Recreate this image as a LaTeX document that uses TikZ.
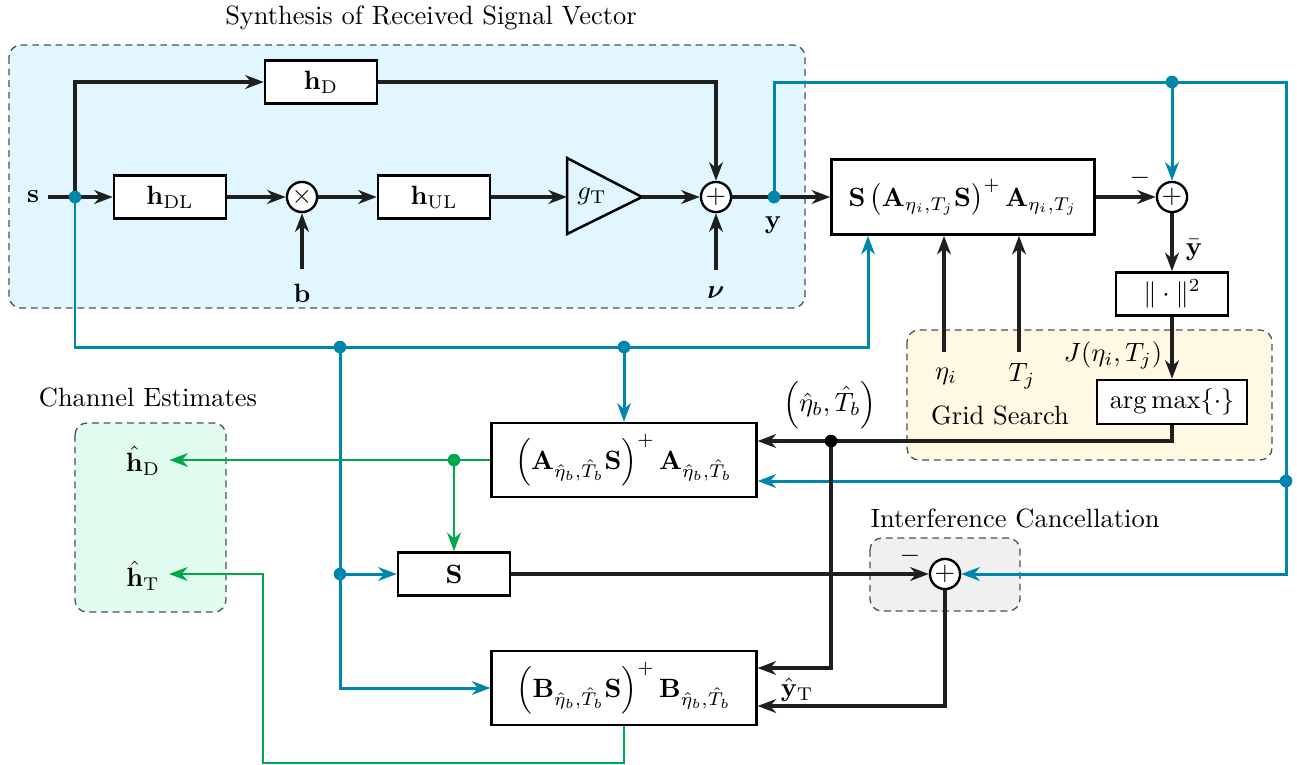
\documentclass[tikz,border=0pt]{standalone}
\usepackage{amsmath}
\usetikzlibrary{arrows.meta,calc}
\definecolor{sigblue}{RGB}{0,134,173}
\definecolor{estgreen}{RGB}{0,170,75}
\definecolor{synthfill}{RGB}{225,246,254}
\definecolor{gridfill}{RGB}{255,248,227}
\definecolor{chanfill}{RGB}{224,252,238}
\definecolor{icfill}{RGB}{240,240,240}
\definecolor{grpedge}{RGB}{80,80,80}
\begin{document}
\begin{tikzpicture}[x=0.378pt,y=-0.378pt,
  tip/.tip={Stealth[length=7pt,width=5.2pt,inset=2.2pt]},
  blk/.style={draw,line width=0.95pt,fill=white,minimum width=42.3pt,minimum height=16.3pt,inner sep=0pt},
  wideblk/.style={blk,minimum width=100pt,minimum height=28pt},
  sumnode/.style={draw,circle,line width=0.9pt,fill=white,minimum size=11.4pt,inner sep=0pt},
  group/.style={draw=grpedge,dashed,dash pattern=on 2.6pt off 1.8pt,line width=0.5pt,rounded corners=4.5pt},
  kline/.style={line width=1.25pt,draw=black!88},
  ksig/.style={kline,-tip},
  bline/.style={line width=1.13pt,draw=sigblue},
  bsig/.style={bline,-tip},
  gline/.style={line width=1.05pt,draw=estgreen},
  gsig/.style={gline,-tip},
]
\useasboundingbox (0,0) rectangle (1297,764);

% group backgrounds
\draw[group,fill=synthfill] (9,45) rectangle (805,308);
\draw[group,fill=gridfill] (907,330) rectangle (1272,460);
\draw[group,fill=chanfill] (75,423) rectangle (226,612);
\draw[group,fill=icfill] (870,538) rectangle (1020,611);

% group titles
\node (tsynth) at (431,18) {Synthesis of Received Signal Vector};
\node (tchan) at (148,397) {Channel Estimates};
\node (tic) at (1015,518) {Interference Cancellation};
\node (tgrid) at (1000,415) {Grid Search};

% synthesis chain
\node (s) at (33,197) {$\mathbf{s}$};
\node[blk] (hD) at (321,82) {$\mathbf{h}_{\mathrm{D}}$};
\node[blk] (hDL) at (170,197) {$\mathbf{h}_{\mathrm{DL}}$};
\node[sumnode] (mul) at (302,197) {$\times$};
\node[blk] (hUL) at (434,197) {$\mathbf{h}_{\mathrm{UL}}$};
\draw[line width=0.95pt] (567,158) -- (642,197) -- (567,234) -- cycle;
\coordinate (gin) at (567,197);
\coordinate (gout) at (642,197);
\node (gT) at (592,196) {$g_{\mathrm{T}}$};
\node[sumnode] (add1) at (716,197) {$+$};
\node (b) at (302,293) {$\mathbf{b}$};
\node (nu) at (716,293) {$\boldsymbol{\nu}$};
\node (ylab) at (773,225) {$\mathbf{y}$};

% grid search
\node[blk,minimum width=99.4pt,minimum height=28.4pt] (proj) at (963,197)
  {$\mathbf{S}\left(\mathbf{A}_{\eta_i,T_j}\mathbf{S}\right)^{+}\mathbf{A}_{\eta_i,T_j}$};
\node[sumnode] (add2) at (1172,197) {$+$};
\node (m1) at (1140,178) {$-$};
\node (ybar) at (1194,250) {$\bar{\mathbf{y}}$};
\node[blk] (norm) at (1172,294) {$\|\cdot\|^{2}$};
\node[blk,minimum width=56.7pt,minimum height=16.6pt] (amax) at (1172,402) {$\arg\max\{\cdot\}$};
\node (J) at (1113,355) {$J(\eta_i,T_j)$};
\node (eta) at (946,376) {$\eta_i$};
\node (Tj) at (1022,376) {$T_j$};
\coordinate (etain) at (944,352);
\coordinate (Tjin) at (1019,352);

% estimation
\node[wideblk] (Ahat) at (624,460)
  {$\left(\mathbf{A}_{\hat{\eta}_b,\hat{T}_b}\mathbf{S}\right)^{+}\mathbf{A}_{\hat{\eta}_b,\hat{T}_b}$};
\node[wideblk] (B) at (624,688)
  {$\left(\mathbf{B}_{\hat{\eta}_b,\hat{T}_b}\mathbf{S}\right)^{+}\mathbf{B}_{\hat{\eta}_b,\hat{T}_b}$};
\node[blk] (Sb) at (454,574) {$\mathbf{S}$};
\node[sumnode] (add3) at (945,574) {$+$};
\node (m2) at (910,556) {$-$};
\node (est) at (830,405) {$\left(\hat{\eta}_b,\hat{T}_b\right)$};
\node (yT) at (797,690) {$\hat{\mathbf{y}}_{\mathrm{T}}$};
\node (hDhat) at (143,461) {$\hat{\mathbf{h}}_{\mathrm{D}}$};
\node (hThat) at (143,576) {$\hat{\mathbf{h}}_{\mathrm{T}}$};

% junction points
\coordinate (sdot) at (75,197);
\coordinate (ydot) at (774,197);
\coordinate (bd1) at (340,347);
\coordinate (bd2) at (624,347);
\coordinate (bd3) at (340,574);
\coordinate (bd4) at (1172,82);
\coordinate (bd5) at (1286,481);
\coordinate (kdot) at (831,441);
\coordinate (gdot) at (454,460);
\coordinate (bl1) at (75,347);
\coordinate (br1) at (868,347);
\coordinate (bl2) at (340,688);
\coordinate (yup) at (774,82);
\coordinate (rtop) at (1286,82);
\coordinate (rbot) at (1286,574);
\coordinate (gb2) at (263,763);
\coordinate (gb3) at (263,574);

% blue signal paths
\draw[bsig] (sdot) -- (bl1) -- (br1) -- (br1 |- proj.south);
\draw[bsig] (bd2) -- (bd2 |- Ahat.north);
\draw[bsig] (bd1) -- (bl2) -- (B.west);
\draw[bsig] (bd3) -- (Sb.west);
\draw[bline] (ydot) -- (yup) -- (rtop) -- (bd5);
\draw[bsig] (bd5) -- (bd5 -| Ahat.east);
\draw[bsig] (bd4) -- (add2.north);
\draw[bsig] (bd5) -- (rbot) -- (add3.east);

% black signal paths
\draw[ksig] (s.east) -- (hDL.west);
\draw[ksig] (sdot) -- (75,82) -- (hD.west);
\draw[ksig] (hDL.east) -- (mul.west);
\draw[ksig] (mul.east) -- (hUL.west);
\draw[ksig] (hUL.east) -- (gin);
\draw[ksig] (gout) -- (add1.west);
\draw[ksig] (hD.east) -| (add1.north);
\draw[ksig] ([yshift=2pt]b.north) -- (mul.south);
\draw[ksig] ([yshift=3pt]nu.north) -- (add1.south);
\draw[ksig] (add1.east) -- (proj.west);
\draw[ksig] (proj.east) -- (add2.west);
\draw[ksig] (etain) -- (etain |- proj.south);
\draw[ksig] (Tjin) -- (Tjin |- proj.south);
\draw[ksig] (add2.south) -- (norm.north);
\draw[ksig] (norm.south) -- (amax.north);
\draw[ksig] (amax.south) |- ($(Ahat.east)+(0,-19)$);
\draw[ksig] (kdot) |- ($(B.east)+(0,-20)$);
\draw[ksig] (Sb.east) -- (add3.west);
\draw[ksig] (add3.south) |- ($(B.east)+(0,18)$);

% green estimate paths
\draw[gsig] (Ahat.west) -- (Ahat.west -| hDhat.east);
\draw[gsig] (gdot) -- (gdot |- Sb.north);
\draw[gsig] (B.south) -- (B.south |- gb2) -- (gb2) -- (gb3) -- (gb3 -| hThat.east);

% junction dots
\foreach \p in {sdot,ydot,bd1,bd2,bd3,bd4,bd5} \fill[sigblue] (\p) circle (2.4pt);
\fill[black] (kdot) circle (2.4pt);
\fill[estgreen] (gdot) circle (2.4pt);
\end{tikzpicture}
\end{document}
